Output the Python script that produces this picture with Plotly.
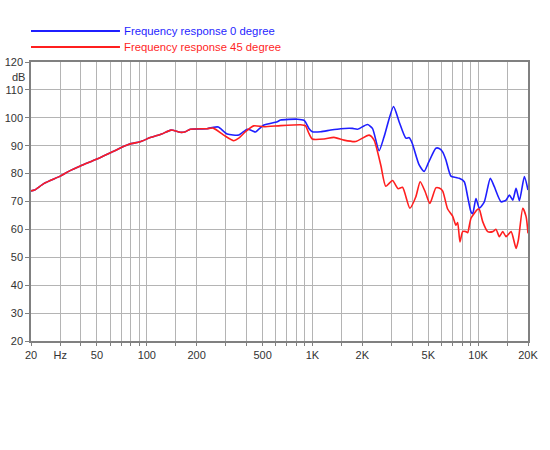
import plotly.graph_objects as go

# frequency response, 0 degree (Hz, dB)
freq_0deg = [20, 21, 24, 30, 34, 40, 50, 62, 78, 91, 105, 123, 140, 159, 171, 183, 231, 252, 270, 306,
             359, 404, 433, 453, 474, 509, 613, 642, 810, 888, 909, 952, 998, 1121, 1288, 1480, 1742, 1868,
             2148, 2302, 2524, 2706, 3086, 3334, 3662, 3835, 4000, 4406, 4724, 5022, 5559, 5821, 6104, 6392,
             6852, 7345, 7691, 8246, 8646, 9054, 9268, 9705, 10164, 10897, 11846, 12524, 13750, 14744,
             15438, 16182, 16944, 17744, 19020, 20000]
db_0deg = [73.8, 74.1, 76.5, 79.1, 80.9, 82.8, 85.2, 87.8, 90.5, 91.4, 92.9, 94.2, 95.6, 94.8, 95.0, 95.9,
           96.1, 96.6, 96.7, 94.2, 93.8, 95.9, 95.4, 94.9, 95.9, 97.4, 98.6, 99.2, 99.5, 99.1, 98.4, 96.2,
           95.0, 95.0, 95.6, 96.1, 96.2, 95.9, 97.6, 96.2, 88.2, 93.2, 104.0, 98.6, 92.7, 92.9, 90.9, 83.1,
           80.8, 84.0, 89.1, 89.0, 87.8, 84.9, 79.1, 78.6, 78.3, 77.1, 71.7, 66.3, 65.6, 71.1, 67.6, 69.9,
           78.3, 75.3, 69.9, 70.5, 72.3, 70.5, 74.7, 70.3, 78.9, 74.1]

# frequency response, 45 degree (Hz, dB)
freq_45deg = [20, 21, 24, 30, 34, 40, 50, 62, 78, 91, 105, 123, 140, 159, 171, 183, 231, 252, 291, 335,
              359, 394, 442, 509, 642, 848, 888, 909, 952, 998, 1173, 1349, 1550, 1824, 2197, 2354, 2586,
              2770, 3043, 3289, 3497, 3872, 4208, 4469, 4790, 5113, 5559, 5821, 6104, 6546, 7015, 7345,
              7522, 7767, 8064, 8444, 8646, 9054, 9939, 10164, 10656, 11426, 12248, 12824, 13428, 14080,
              14744, 15808, 16944, 17496, 18600, 19480, 20000]
db_45deg = [73.8, 74.1, 76.5, 79.1, 80.9, 82.8, 85.2, 87.8, 90.5, 91.4, 92.9, 94.2, 95.6, 94.8, 95.0, 95.9,
            96.1, 96.3, 93.8, 91.8, 92.7, 95.0, 97.1, 96.8, 97.2, 97.5, 97.3, 97.1, 94.4, 92.4, 92.4, 93.0,
            92.0, 91.5, 93.8, 92.0, 83.0, 75.5, 77.5, 74.6, 75.1, 67.6, 71.7, 77.1, 73.5, 69.3, 74.9, 74.8,
            73.8, 67.3, 64.8, 61.5, 62.5, 55.5, 59.2, 59.2, 58.8, 64.0, 67.2, 67.2, 62.8, 59.2, 59.2, 60.0,
            57.4, 59.2, 57.4, 59.2, 53.2, 56.2, 67.6, 64.6, 58.6]

# x grid positions and labels
grid_freqs = [20, 30, 40, 50, 60, 70, 80, 90, 100, 150, 200, 300, 400, 500, 600, 700, 800, 900, 1000,
              1500, 2000, 3000, 4000, 5000, 6000, 7000, 8000, 9000, 10000, 15000, 20000]
label_map = {20: '20', 30: 'Hz', 50: '50', 100: '100', 200: '200', 500: '500', 1000: '1K',
             2000: '2K', 5000: '5K', 10000: '10K', 20000: '20K'}
grid_text = [label_map.get(f, '') for f in grid_freqs]
db_ticks = [20, 30, 40, 50, 60, 70, 80, 90, 100, 110, 120]

blue = '#1f1fff'
red = '#ff1f1f'

fig = go.Figure()
fig.add_scatter(x=freq_0deg, y=db_0deg, mode='lines', name='Frequency response 0 degree',
                line=dict(color=blue, width=1.6, shape='spline', smoothing=0.6))
fig.add_scatter(x=freq_45deg, y=db_45deg, mode='lines', name='Frequency response 45 degree',
                line=dict(color=red, width=1.6, shape='spline', smoothing=0.6))

# hand-drawn legend above the plot
legend_items = [('Frequency response 0 degree', blue, 1.111),
                ('Frequency response 45 degree', red, 1.054)]
for text, color, ypos in legend_items:
    fig.add_shape(type='line', xref='paper', yref='paper', x0=0, x1=0.179, y0=ypos, y1=ypos,
                  line=dict(color=color, width=2))
    fig.add_annotation(text=text, xref='paper', yref='paper', x=0.183, y=ypos, xanchor='left',
                       yanchor='middle', showarrow=False, font=dict(color=color, size=11.3))

fig.add_annotation(text='dB', xref='paper', yref='y', x=0, y=114.6, xanchor='right', xshift=-4,
                   showarrow=False, font=dict(color='#333333', size=11))

fig.update_layout(
    width=550, height=450,
    margin=dict(l=31, r=22, t=62, b=109),
    paper_bgcolor='white', plot_bgcolor='white',
    showlegend=False,
    font=dict(family='Liberation Sans, Arial, sans-serif', size=11, color='#333333'),
)
fig.update_xaxes(
    type='log', range=[1.30103, 4.30103], automargin=False,
    tickmode='array', tickvals=grid_freqs, ticktext=grid_text,
    showgrid=True, gridcolor='#b4b4b4', gridwidth=1,
    showline=True, linecolor='#808080', linewidth=1.5, mirror=True,
    ticks='outside', ticklen=3, tickcolor='#808080',
)
fig.update_yaxes(
    range=[20, 120], tickvals=db_ticks, automargin=False,
    showgrid=True, gridcolor='#b4b4b4', gridwidth=1,
    showline=True, linecolor='#808080', linewidth=1.5, mirror=True,
    ticks='outside', ticklen=4, tickcolor='#808080', zeroline=False,
)

# drop the default page margin so the figure sits at the window corner
fig.write_html("out.html", config={'displayModeBar': False},
               post_script="document.body.style.margin = '0';")
